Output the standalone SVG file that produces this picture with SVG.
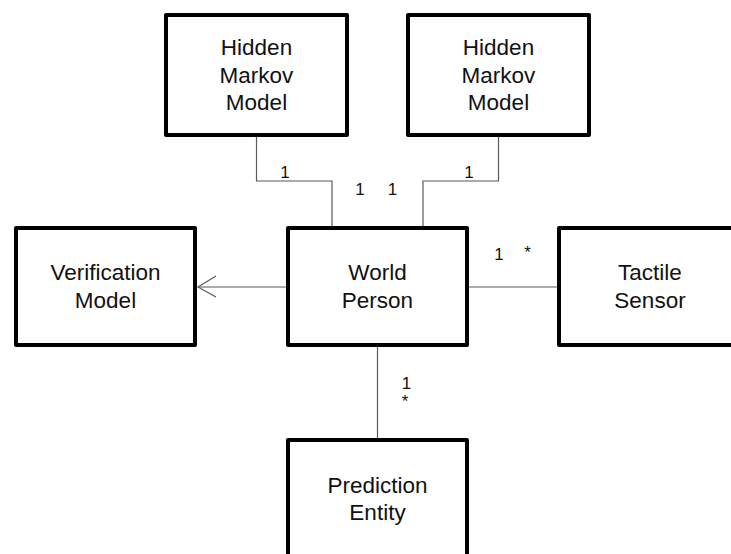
<svg xmlns="http://www.w3.org/2000/svg" width="731" height="554" viewBox="0 0 731 554">
<style>
.box{fill:#fff;stroke:#000;stroke-width:4;stroke-linejoin:round}
.t{font-family:"Liberation Sans",Arial,sans-serif;font-size:22.5px;fill:#111;text-anchor:middle}
.l{font-family:"Liberation Sans",Arial,sans-serif;font-size:17px;fill:#111;text-anchor:middle}
.c{fill:none;stroke:#5a5a5a;stroke-width:1.2}
</style>
<rect width="731" height="554" fill="#fff"/>
<g id="connectors">
<polyline class="c" points="256.5,137 256.5,181 332,181 332,226"/>
<polyline class="c" points="498.5,137 498.5,181 423,181 423,226"/>
<line class="c" x1="286" y1="287" x2="198" y2="287"/>
<polyline class="c" points="216,276 198,287 216,297"/>
<line class="c" x1="469" y1="287" x2="558" y2="287"/>
<line class="c" x1="377.5" y1="347" x2="377.5" y2="438"/>
<text class="l" x="285" y="178">1</text>
<text class="l" x="360" y="195">1</text>
<text class="l" x="392.5" y="195">1</text>
<text class="l" x="469" y="178">1</text>
<text class="l" x="499" y="260">1</text>
<text class="l" x="527.5" y="258">*</text>
<text class="l" x="406.5" y="389">1</text>
<text class="l" x="405" y="407">*</text>
</g>
<g id="hmm1">
<rect class="box" x="166" y="15" width="181" height="120"/>
<text class="t" x="256.5" y="55">Hidden</text>
<text class="t" x="256.5" y="82.5">Markov</text>
<text class="t" x="256.5" y="110">Model</text>
</g>
<g id="hmm2">
<rect class="box" x="408" y="15" width="181" height="120"/>
<text class="t" x="498.5" y="55">Hidden</text>
<text class="t" x="498.5" y="82.5">Markov</text>
<text class="t" x="498.5" y="110">Model</text>
</g>
<g id="verification">
<rect class="box" x="16" y="228" width="179" height="117"/>
<text class="t" x="105.5" y="280">Verification</text>
<text class="t" x="105.5" y="308">Model</text>
</g>
<g id="worldperson">
<rect class="box" x="288" y="228" width="179" height="117"/>
<text class="t" x="377.5" y="280">World</text>
<text class="t" x="377.5" y="308">Person</text>
</g>
<g id="tactile">
<rect class="box" x="559" y="228" width="182" height="117"/>
<text class="t" x="650" y="280">Tactile</text>
<text class="t" x="650" y="308">Sensor</text>
</g>
<g id="prediction">
<rect class="box" x="288" y="440" width="179" height="130"/>
<text class="t" x="377.5" y="492.5">Prediction</text>
<text class="t" x="377.5" y="520">Entity</text>
</g>
</svg>
